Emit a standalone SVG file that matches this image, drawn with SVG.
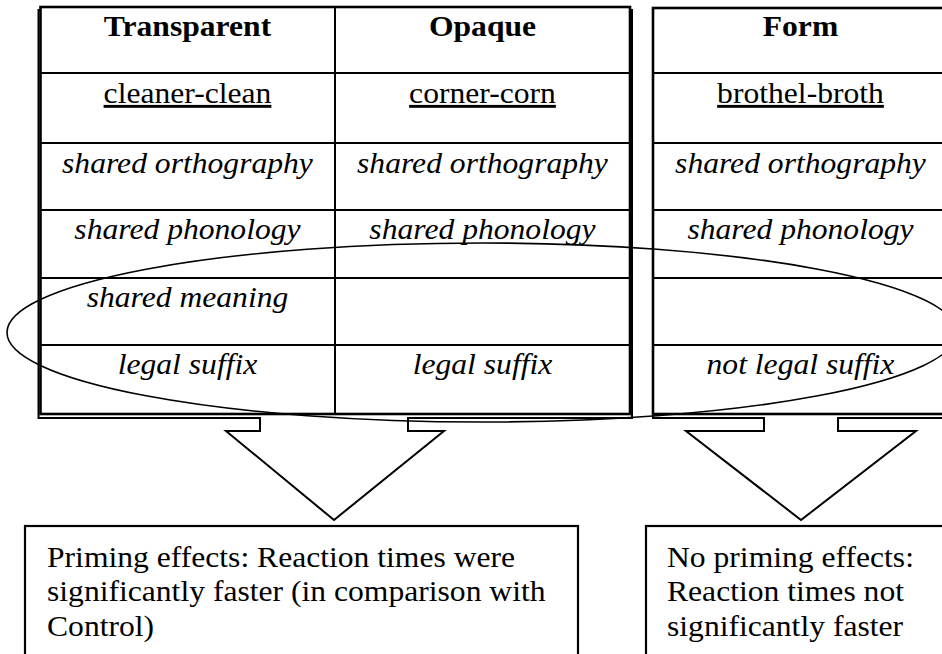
<svg xmlns="http://www.w3.org/2000/svg" width="942" height="654" viewBox="0 0 942 654">
  <defs>
    <style>
      .bg { fill: #ffffff; }
      .callout { fill: #ffffff; stroke: #000; stroke-width: 2; stroke-linejoin: miter; }
      .frame { fill: #ffffff; stroke: #000; stroke-width: 2.6; }
      .rule { stroke: #000; stroke-width: 2; fill: none; }
      .box { fill: #ffffff; stroke: #000; stroke-width: 2.2; }
      .ring { fill: none; stroke: #000; stroke-width: 1.6; }
      text { font-family: "Liberation Serif", "Times New Roman", serif; font-size: 29px; fill: #000;
             transform-box: fill-box; transform: scaleX(1.09); }
      .c { text-anchor: middle; transform-origin: center; }
      .l { text-anchor: start; transform-origin: left; }
      .head { font-weight: bold; }
      .pair { text-decoration: underline; }
      .feat { font-style: italic; }
    </style>
  </defs>

  <rect class="bg" x="0" y="0" width="942" height="654"/>

  <!-- down-arrow callouts sitting behind the tables -->
  <g id="connectors">
    <path id="arrow-left" class="callout" d="M38.5,10 H632 V418 H408 V431 H444 L334,520 L226,431 H260 V418 H38.5 Z"/>
    <path id="arrow-right" class="callout" d="M653,10 H960 V418 H838 V431 H916 L801,520 L686,431 H764 V418 H653 Z"/>
  </g>

  <!-- transparent / opaque table -->
  <g id="table-transparent-opaque">
    <rect class="frame" x="40.5" y="7" width="589.5" height="407"/>
    <line class="rule" x1="40" y1="73" x2="630" y2="73"/>
    <line class="rule" x1="40" y1="143" x2="630" y2="143"/>
    <line class="rule" x1="40" y1="210" x2="630" y2="210"/>
    <line class="rule" x1="40" y1="278" x2="630" y2="278"/>
    <line class="rule" x1="40" y1="345" x2="630" y2="345"/>
    <line class="rule" x1="335" y1="7" x2="335" y2="414"/>

    <g id="col-transparent">
      <text class="c head" x="187.5" y="36">Transparent</text>
      <text class="c pair" x="187.5" y="103">cleaner-clean</text>
      <text class="c feat" x="187.5" y="173">shared orthography</text>
      <text class="c feat" x="187.5" y="239">shared phonology</text>
      <text class="c feat" x="187.5" y="307">shared meaning</text>
      <text class="c feat" x="187.5" y="374">legal suffix</text>
    </g>
    <g id="col-opaque">
      <text class="c head" x="482.5" y="36">Opaque</text>
      <text class="c pair" x="482.5" y="103">corner-corn</text>
      <text class="c feat" x="482.5" y="173">shared orthography</text>
      <text class="c feat" x="482.5" y="239">shared phonology</text>
      <text class="c feat" x="482.5" y="374">legal suffix</text>
    </g>
  </g>

  <!-- form table -->
  <g id="table-form">
    <rect class="frame" x="653" y="8" width="300" height="406"/>
    <line class="rule" x1="653" y1="73" x2="942" y2="73"/>
    <line class="rule" x1="653" y1="143" x2="942" y2="143"/>
    <line class="rule" x1="653" y1="210" x2="942" y2="210"/>
    <line class="rule" x1="653" y1="278" x2="942" y2="278"/>
    <line class="rule" x1="653" y1="345" x2="942" y2="345"/>
    <text class="c head" x="800.5" y="36">Form</text>
    <text class="c pair" x="800.5" y="103">brothel-broth</text>
    <text class="c feat" x="800.5" y="173">shared orthography</text>
    <text class="c feat" x="800.5" y="239">shared phonology</text>
    <text class="c feat" x="800.5" y="374">not legal suffix</text>
  </g>

  <!-- outcome boxes -->
  <g id="result-priming">
    <rect class="box" x="25" y="526" width="553" height="150"/>
    <text class="l" x="47" y="567">Priming effects: Reaction times were</text>
    <text class="l" x="47" y="601.5">significantly faster (in comparison with</text>
    <text class="l" x="47" y="636">Control)</text>
  </g>
  <g id="result-no-priming">
    <rect class="box" x="646" y="526" width="320" height="150"/>
    <text class="l" x="667" y="567">No priming effects:</text>
    <text class="l" x="667" y="601.5">Reaction times not</text>
    <text class="l" x="667" y="636">significantly faster</text>
  </g>

  <!-- ellipse grouping the meaning and suffix rows -->
  <g id="highlight">
    <ellipse class="ring" cx="482" cy="332.5" rx="475" ry="89.5"/>
  </g>
</svg>
